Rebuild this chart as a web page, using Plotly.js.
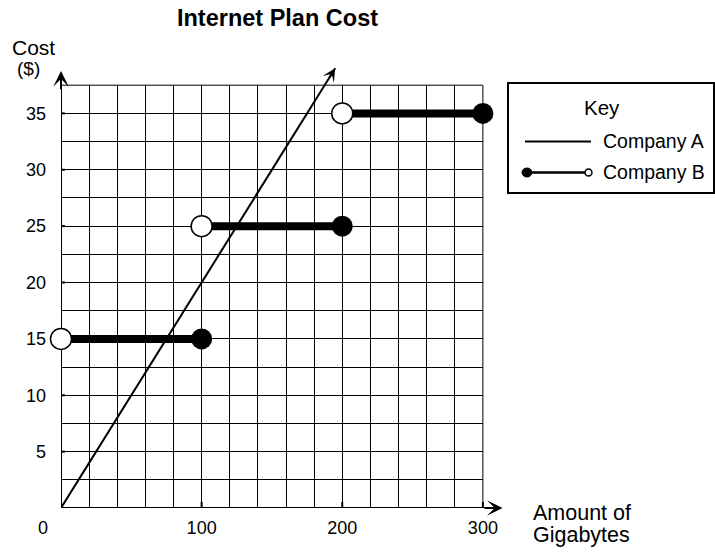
<!DOCTYPE html>
<html><head><meta charset="utf-8">
<script src="https://cdn.plot.ly/plotly-3.0.1.min.js"></script>
<style>html,body{margin:0;padding:0;background:#fff}#chart{width:715px;height:552px}</style>
</head><body><div id="chart"></div>
<script>
// ---- data ----
const companyA_gb = [0, 195];
const companyA_cost = [0, 39];
const companyB_from = [0, 100, 200];
const companyB_to = [100, 200, 300];
const companyB_cost = [15, 25, 35];
const xTickVals = [100, 200, 300];
const xTickText = ['100', '200', '300'];
const yTickVals = [5, 10, 15, 20, 25, 30, 35];
const yTickText = ['5', '10', '15', '20', '25', '30', '35'];

// ---- geometry helpers ----
const W = 715, H = 552;
const M = {l: 61, r: 204, t: 57, b: 44};
const PW = W - M.l - M.r, PH = H - M.t - M.b;
const px = p => (p - M.l) / PW;
const py = p => (H - M.b - p) / PH;
const FONT = 'Liberation Sans, Arial, Helvetica, sans-serif';
const X_MAX = 320, Y_MAX = 40, GRID_X = 300, GRID_Y = 37.5;

// Company B step segments
const bx = [], by = [];
companyB_from.forEach((x0, i) => {
  bx.push(x0, companyB_to[i], null);
  by.push(companyB_cost[i], companyB_cost[i], null);
});

const traces = [
  // graph-paper subplot (no data)
  {x: [], y: [], xaxis: 'x', yaxis: 'y', mode: 'markers', hoverinfo: 'skip'},
  {x: companyA_gb, y: companyA_cost, xaxis: 'x2', yaxis: 'y2', mode: 'lines', line: {color: '#000', width: 2}, hoverinfo: 'skip', name: 'Company A'},
  {x: bx, y: by, xaxis: 'x2', yaxis: 'y2', mode: 'lines', line: {color: '#000', width: 8}, connectgaps: false, hoverinfo: 'skip', name: 'Company B'},
  {x: companyB_to, y: companyB_cost, xaxis: 'x2', yaxis: 'y2', mode: 'markers', cliponaxis: false,
   marker: {symbol: 'circle', size: 21, color: '#000', line: {width: 0}}, hoverinfo: 'skip'},
  {x: companyB_from, y: companyB_cost, xaxis: 'x2', yaxis: 'y2', mode: 'markers', cliponaxis: false,
   marker: {symbol: 'circle', size: 21, color: '#fff', line: {color: '#000', width: 1.5}}, hoverinfo: 'skip'}
];

const shapes = [];
// grid border (top and right)
shapes.push({type: 'line', layer: 'below', xref: 'x2', yref: 'y2', x0: 0, x1: GRID_X, y0: GRID_Y, y1: GRID_Y, line: {color: '#000', width: 1}});
shapes.push({type: 'line', layer: 'below', xref: 'x2', yref: 'y2', x0: GRID_X, x1: GRID_X, y0: 0, y1: GRID_Y, line: {color: '#000', width: 1}});
// axis lines
shapes.push({type: 'line', layer: 'below', xref: 'x2', yref: 'y2', x0: 0, x1: 0, y0: 0, y1: 38, line: {color: '#000', width: 2}});
shapes.push({type: 'line', layer: 'below', xref: 'x2', yref: 'y2', x0: 0, x1: 311, y0: 0, y1: 0, line: {color: '#000', width: 2}});
// tick marks crossing the axes
yTickVals.forEach(v => shapes.push({type: 'line', layer: 'below', xref: 'x2', yref: 'y2', xsizemode: 'pixel', xanchor: 0,
  x0: -5, x1: 4, y0: v, y1: v, line: {color: '#000', width: 2}}));
xTickVals.forEach(v => shapes.push({type: 'line', layer: 'below', xref: 'x2', yref: 'y2', ysizemode: 'pixel', yanchor: 0,
  x0: v, x1: v, y0: -3, y1: 6, line: {color: '#000', width: 2}}));

// ---- key box ----
shapes.push({type: 'rect', xref: 'paper', yref: 'paper', x0: px(508), x1: px(714), y0: py(83), y1: py(193), line: {color: '#000', width: 2}, fillcolor: 'rgba(0,0,0,0)'});
shapes.push({type: 'line', xref: 'paper', yref: 'paper', x0: px(525), x1: px(591), y0: py(141.5), y1: py(141.5), line: {color: '#000', width: 2}});
shapes.push({type: 'line', xref: 'paper', yref: 'paper', x0: px(527), x1: px(586), y0: py(172.5), y1: py(172.5), line: {color: '#000', width: 2.5}});
shapes.push({type: 'circle', xref: 'paper', yref: 'paper', x0: px(522), x1: px(532), y0: py(168), y1: py(177), line: {color: '#000', width: 1}, fillcolor: '#000'});
shapes.push({type: 'circle', xref: 'paper', yref: 'paper', x0: px(585), x1: px(592), y0: py(169), y1: py(176), line: {color: '#000', width: 1.5}, fillcolor: '#fff'});

const txt = (text, x, y, size, xanchor) => ({
  text: text, xref: 'paper', yref: 'paper', x: px(x), y: py(y), xanchor: xanchor || 'center', yanchor: 'middle',
  showarrow: false, font: {family: FONT, size: size || 18, color: '#000'}
});
const arrow = (x, y, ax, ay, size) => ({xref: 'x2', yref: 'y2', axref: 'x2', ayref: 'y2', x: x, y: y, ax: ax, ay: ay,
  text: '', showarrow: true, arrowhead: 3, arrowsize: size, arrowwidth: 2, arrowcolor: '#000'});

const annotations = [
  arrow(0, 38.75, 0, 37, 1.3),
  arrow(314, 0, 300, 0, 1.3),
  arrow(companyA_gb[1], companyA_cost[1], companyA_gb[1] - 5, companyA_cost[1] - 1, 1.1),
  txt('0', 43, 528, 18),
  txt('Cost', 33, 48, 21),
  txt('($)', 28, 68, 19),
  txt('Amount of', 531, 513, 21.5, 'left'),
  txt('Gigabytes', 531, 535, 21.5, 'left'),
  txt('Key', 602, 108, 20.5),
  txt('Company A', 601, 141, 19.5, 'left'),
  txt('Company B', 601, 172, 19.5, 'left')
];

const layout = {
  width: W, height: H,
  margin: M,
  paper_bgcolor: '#fff', plot_bgcolor: 'rgba(0,0,0,0)',
  showlegend: false,
  font: {family: FONT, size: 18, color: '#000'},
  title: {text: '<b>Internet Plan Cost</b>', font: {family: FONT, size: 23.5, color: '#000'},
          xref: 'container', yref: 'container', x: 277.5 / W, y: 1 - 18 / H, xanchor: 'center', yanchor: 'middle'},
  // graph-paper axes
  xaxis: {domain: [0, GRID_X / X_MAX], range: [0, GRID_X], anchor: 'y', tick0: 0, dtick: 20,
          showgrid: true, gridcolor: '#000', gridwidth: 1, showticklabels: false, ticks: '',
          zeroline: false, showline: false, fixedrange: true},
  yaxis: {domain: [0, GRID_Y / Y_MAX], range: [0, GRID_Y], anchor: 'x', tick0: 0, dtick: 2.5,
          showgrid: true, gridcolor: '#000', gridwidth: 1, showticklabels: false, ticks: '',
          zeroline: false, showline: false, fixedrange: true},
  // data axes
  xaxis2: {domain: [0, 1], range: [0, X_MAX], anchor: 'y2', showgrid: false, zeroline: false, showline: false,
          tickmode: 'array', tickvals: xTickVals, ticktext: xTickText, ticks: '', ticklabelstandoff: 7,
          tickfont: {family: FONT, size: 18, color: '#000'}, fixedrange: true},
  yaxis2: {domain: [0, 1], range: [0, Y_MAX], anchor: 'x2', showgrid: false, zeroline: false, showline: false,
          tickmode: 'array', tickvals: yTickVals, ticktext: yTickText, ticks: '', ticklabelstandoff: 14,
          tickfont: {family: FONT, size: 18, color: '#000'}, fixedrange: true},
  shapes: shapes,
  annotations: annotations
};

Plotly.newPlot('chart', traces, layout, {displayModeBar: false, staticPlot: true});
</script>
</body></html>
